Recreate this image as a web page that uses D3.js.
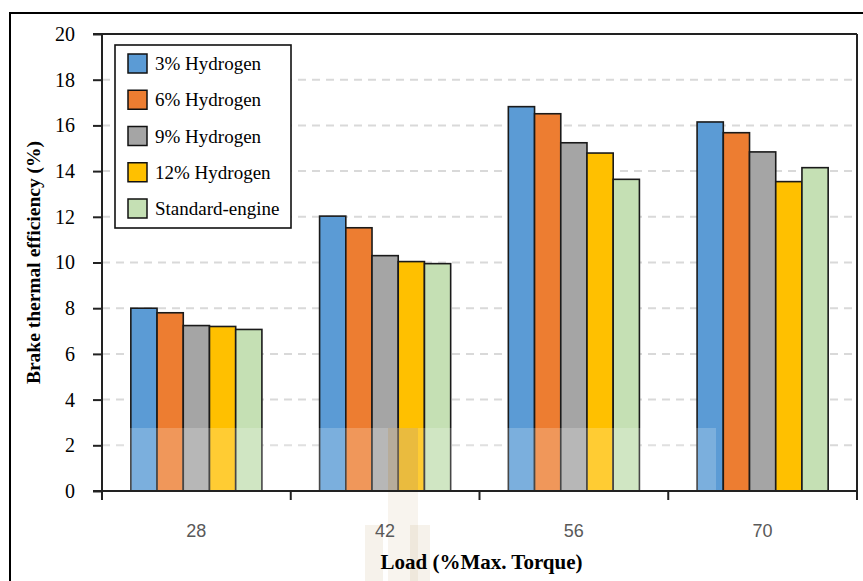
<!DOCTYPE html>
<html>
<head>
<meta charset="utf-8">
<script src="https://cdn.jsdelivr.net/npm/d3@7"></script>
<style>
  html, body { margin: 0; padding: 0; background: #fff; }
  svg { display: block; }
</style>
</head>
<body>
<svg id="chart" width="863" height="581"></svg>
<script>
const categories = ["28", "42", "56", "70"];
const seriesNames = ["3% Hydrogen", "6% Hydrogen", "9% Hydrogen", "12% Hydrogen", "Standard-engine"];
const h3  = [8.0, 12.03, 16.82, 16.15];
const h6  = [7.8, 11.52, 16.51, 15.68];
const h9  = [7.24, 10.30, 15.24, 14.84];
const h12 = [7.2, 10.04, 14.79, 13.54];
const std = [7.07, 9.95, 13.64, 14.15];
const yTicks = [0, 2, 4, 6, 8, 10, 12, 14, 16, 18, 20];
const colors = ["#5B9BD5", "#ED7D31", "#A5A5A5", "#FFC000", "#C5E0B4"];

const seriesValues = [h3, h6, h9, h12, std];

const svg = d3.select("#chart");
const margin = { left: 102, right: 857, top: 34, bottom: 491 };
const serif = "'Liberation Serif', 'Times New Roman', serif";

// outer frame
svg.append("rect").attr("x", 10).attr("y", 13).attr("width", 900).attr("height", 700)
  .attr("fill", "none").attr("stroke", "#000").attr("stroke-width", 2);

const x0 = d3.scaleBand().domain(categories).range([margin.left, margin.right]).padding(0);
const x1 = d3.scaleBand().domain(seriesNames).range([0, x0.bandwidth()]).paddingInner(0).paddingOuter(1.1);
const y = d3.scaleLinear().domain([0, 20]).range([margin.bottom, margin.top]);

// gridlines
svg.append("g").selectAll("line").data(yTicks.filter(t => t > 0 && t < 20)).join("line")
  .attr("x1", margin.left).attr("x2", margin.right)
  .attr("y1", d => y(d)).attr("y2", d => y(d))
  .attr("stroke", "#d9d9d9").attr("stroke-width", 2).attr("stroke-dasharray", "8,6");

// bars
const groups = svg.append("g").selectAll("g").data(categories).join("g")
  .attr("transform", d => `translate(${x0(d)},0)`);
groups.selectAll("rect").data((c, i) => seriesNames.map((s, j) => ({ s, j, v: seriesValues[j][i] }))).join("rect")
  .attr("x", d => x1(d.s)).attr("width", x1.bandwidth())
  .attr("y", d => y(d.v)).attr("height", d => y(0) - y(d.v))
  .attr("fill", d => colors[d.j]).attr("stroke", "#1a1a1a").attr("stroke-width", 1.6);

// watermark band
svg.append("rect").attr("x", margin.left).attr("y", 428).attr("width", 716 - margin.left).attr("height", y(0) - 428)
  .attr("fill", "#fff").attr("opacity", 0.2);
// watermark logo approximation
const wm = svg.append("g").attr("fill", "#b8955a");
wm.append("rect").attr("x", 388).attr("y", 428).attr("width", 30).attr("height", 63).attr("opacity", 0.3);
wm.append("rect").attr("x", 388).attr("y", 491).attr("width", 30).attr("height", 90).attr("opacity", 0.1);
wm.append("rect").attr("x", 365).attr("y", 525).attr("width", 18).attr("height", 56).attr("opacity", 0.12);
wm.append("rect").attr("x", 410).attr("y", 525).attr("width", 20).attr("height", 56).attr("opacity", 0.12);

// Y axis
const yAxis = d3.axisLeft(y).tickValues(yTicks).tickSize(9).tickPadding(18).tickFormat(d3.format("d"));
const ya = svg.append("g").attr("transform", `translate(${margin.left},0)`).call(yAxis);
ya.select(".domain").attr("stroke", "#222").attr("stroke-width", 2).attr("d", `M0,${margin.top}V${margin.bottom}`);
ya.selectAll(".tick line").attr("stroke", "#222").attr("stroke-width", 2);
ya.selectAll("text").attr("font-family", serif).attr("font-size", 20).attr("fill", "#000");

// top and right border
svg.append("line").attr("x1", 93).attr("x2", margin.right).attr("y1", margin.top).attr("y2", margin.top)
  .attr("stroke", "#222").attr("stroke-width", 2);
svg.append("line").attr("x1", margin.right).attr("x2", margin.right).attr("y1", margin.top).attr("y2", margin.bottom)
  .attr("stroke", "#222").attr("stroke-width", 2);

// X axis
const xa = svg.append("g").attr("transform", `translate(0,${margin.bottom})`);
xa.append("line").attr("x1", 93).attr("x2", margin.right).attr("y1", 0).attr("y2", 0)
  .attr("stroke", "#222").attr("stroke-width", 2);
const bounds = categories.map(c => x0(c)).concat([margin.right]);
xa.selectAll("line.tk").data(bounds).join("line").attr("class", "tk")
  .attr("x1", d => d).attr("x2", d => d).attr("y1", 0).attr("y2", 9)
  .attr("stroke", "#222").attr("stroke-width", 2);
xa.selectAll("text").data(categories).join("text")
  .attr("x", d => x0(d) + x0.bandwidth() / 2).attr("y", 46)
  .attr("text-anchor", "middle").attr("font-family", "'Liberation Sans', Arial, sans-serif")
  .attr("font-size", 18).attr("fill", "#595959").text(d => d);

// axis titles
svg.append("text").attr("x", (margin.left + margin.right) / 2 + 2).attr("y", 569)
  .attr("text-anchor", "middle").attr("font-family", serif)
  .attr("font-weight", "bold").attr("font-size", 21).attr("fill", "#000").text("Load (%Max. Torque)");
svg.append("text").attr("transform", `translate(40,${(margin.top + margin.bottom) / 2}) rotate(-90)`)
  .attr("text-anchor", "middle").attr("font-family", serif)
  .attr("font-weight", "bold").attr("font-size", 19.5).attr("fill", "#000").text("Brake thermal efficiency (%)");

// legend
const lg = svg.append("g");
lg.append("rect").attr("x", 115).attr("y", 45).attr("width", 176).attr("height", 183)
  .attr("fill", "#fff").attr("stroke", "#111").attr("stroke-width", 1.6);
const rowY = d3.scalePoint().domain(seriesNames).range([63.5, 208.5]);
lg.selectAll("rect.sw").data(seriesNames).join("rect").attr("class", "sw")
  .attr("x", 128).attr("y", d => rowY(d) - 9.5).attr("width", 19).attr("height", 19)
  .attr("fill", (d, i) => colors[i]).attr("stroke", "#111").attr("stroke-width", 1.5);
lg.selectAll("text").data(seriesNames).join("text")
  .attr("x", 155).attr("y", d => rowY(d) + 6.5)
  .attr("font-family", serif)
  .attr("font-size", 19).attr("fill", "#000").text(d => d);
</script>
</body>
</html>
